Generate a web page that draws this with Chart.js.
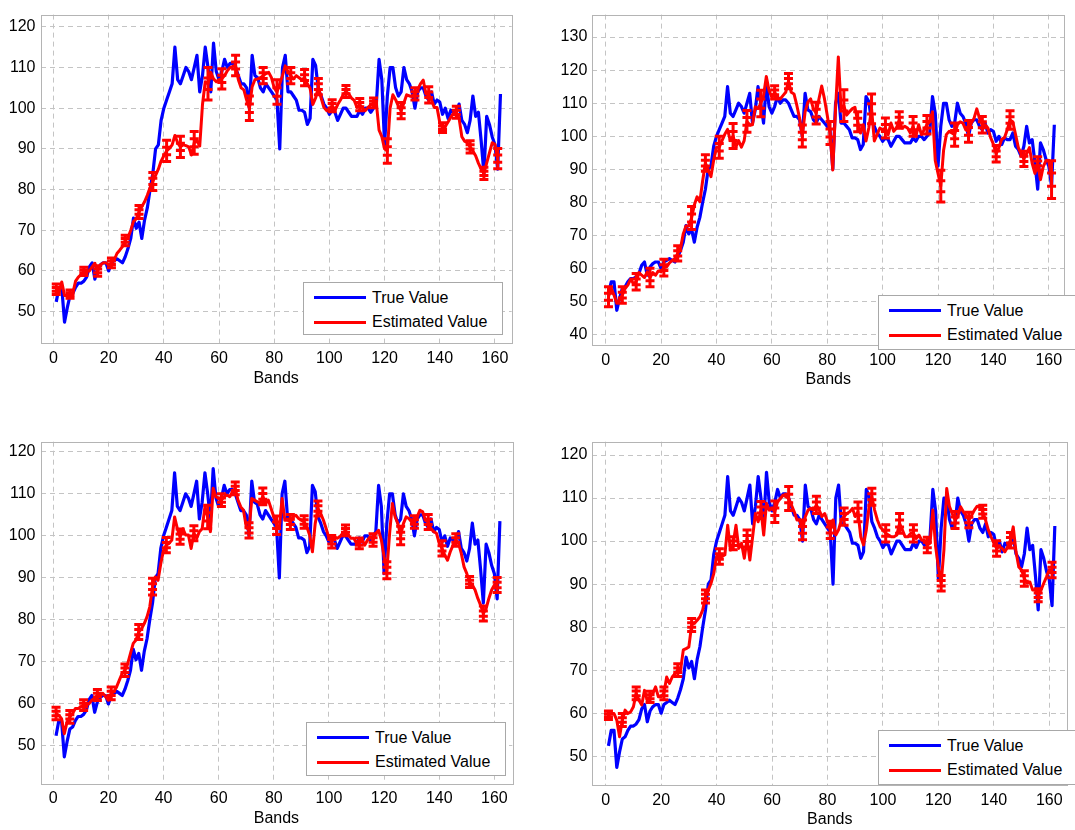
<!DOCTYPE html>
<html>
<head>
<meta charset="utf-8">
<title>Bands</title>
<script src="https://cdn.jsdelivr.net/npm/chart.js@4.4.1/dist/chart.umd.min.js"></script>
<style>
  body { margin: 0; background: #fff; width: 1075px; height: 830px; position: relative; overflow: hidden;
         font-family: "Liberation Sans", Arial, sans-serif; }
  canvas { position: absolute; }
  .legend { position: absolute; width: 200px; border: 1px solid #a8a8a8; background: #fff; box-sizing: border-box; }
  .legend .row { position: absolute; left: 0; width: 100%; height: 20px; }
  .legend .swatch { position: absolute; left: 10px; top: 8.5px; width: 52px; height: 3px; }
  .legend span { position: absolute; left: 68px; top: 0; font-size: 16px; line-height: 20px; white-space: nowrap; color: #000; }
</style>
</head>
<body>
<canvas id="c1" width="525" height="400" style="left:0;top:0"></canvas>
<canvas id="c2" width="530" height="400" style="left:545px;top:0"></canvas>
<canvas id="c3" width="525" height="405" style="left:0;top:425px"></canvas>
<canvas id="c4" width="530" height="405" style="left:545px;top:425px"></canvas>
<script>
// band numbers shared by all four panels
const bands = Array.from({ length: 162 }, (_, i) => i + 1);
// error bars sit on every fifth band
const errBands = [1, 6, 11, 16, 21, 26, 31, 36, 41, 46, 51, 56, 61, 66, 71, 76, 81,
  86, 91, 96, 101, 106, 111, 116, 121, 126, 131, 136, 141, 146, 151, 156, 161];

// tick labels
const xTicks = [0, 20, 40, 60, 80, 100, 120, 140, 160];
const yTicksLow = [50, 60, 70, 80, 90, 100, 110, 120];
const yTicksWide = [40, 50, 60, 70, 80, 90, 100, 110, 120, 130];

const trueValues = [
  52.4, 56, 56, 47.4, 51, 54, 54.5, 56, 57, 57,
  57.5, 58.5, 61, 62, 58, 60.5, 61.5, 62, 62, 60,
  62, 62.5, 63, 62.5, 62, 63.5, 65.5, 68, 73, 70.5,
  72, 68, 72.5, 75.5, 80, 84, 90, 91, 97, 100,
  102, 104, 106, 115, 107, 106, 108, 110, 109, 107,
  110, 113, 104, 108, 115, 110, 104, 116, 109, 107,
  109, 112, 110, 111, 111, 110, 108, 106, 106, 105,
  100, 113, 108, 107.5, 105, 104, 106, 105, 104, 103,
  102, 90, 110, 113, 104, 104, 103, 102, 99.5, 99.5,
  99, 96, 97.5, 112, 110.5, 104.5, 103, 101, 100, 98.5,
  99.5, 99, 97, 98.5, 100, 100, 99, 98, 98, 98,
  99.5, 98.5, 100, 100, 99, 100, 101, 112, 107, 91,
  103, 110, 110, 105, 103, 104, 110, 107, 106, 104,
  100, 104, 105, 105, 103, 102, 104, 101, 102, 101.5,
  98.5, 100, 97.5, 99.5, 99, 99, 101, 97, 96, 94,
  97, 103, 98, 99, 92, 84, 98, 96, 93, 91,
  85, 103.5
];

const estValues1 = [
  55.5, 54.7, 57.3, 54, 54, 54.3, 54.5, 57.5, 58.5, 59.1,
  59.9, 60, 60, 61, 61.9, 60, 61.5, 62, 62, 61.5,
  62, 62.7, 64.3, 65.1, 66, 67.5, 68.2, 70, 72.2, 72.8,
  74.5, 75.8, 77, 78.6, 80.5, 82, 83.5, 85, 87, 88.3,
  89.5, 90.1, 91, 93.3, 91.5, 90.5, 91, 90.8, 90.5, 88.5,
  91.5, 92, 90.7, 100.9, 106.5, 106, 108.8, 107.2, 106.5, 107,
  107.2, 108, 109.2, 110, 110.3, 110.5, 107, 105, 104.5, 102,
  100, 105.3, 107, 107.2, 107.5, 108, 108.5, 108.8, 107.5, 105,
  104, 106, 108, 110.4, 109, 108, 107.2, 108, 107.5, 107,
  107.5, 106, 104.9, 100.9, 102.5, 105.3, 102.5, 100.2, 99.4, 99.8,
  100.6, 99.4, 100.9, 102, 103.3, 104.1, 103.5, 102.5, 101.9, 100.2,
  100.9, 100, 99.4, 100.2, 100.8, 101.3, 101.3, 94.6, 93, 90,
  89.5, 100, 103.3, 102.1, 100.5, 99.4, 101.3, 103.3, 103, 102.9,
  103.5, 104.5, 106, 106.9, 103.5, 103.3, 102, 100.2, 100.2, 96.5,
  95.2, 95.5, 96.6, 97.8, 98.8, 99, 97.5, 93, 91.9, 91.5,
  90.5, 89.5, 88.3, 86.5, 85, 84, 86.5, 89, 91.5, 91.1,
  87.6
];

const estValues2 = [
  51.5, 54, 52, 49.5, 50.5, 52, 54, 55, 56.8, 55.5,
  56, 58.8, 58, 57.3, 59, 57.3, 58.8, 58, 59.3, 59,
  60.3, 60.5, 61.7, 62.5, 63, 64.6, 66.1, 70.5, 72.9, 72.9,
  75.3, 79.2, 81.7, 80.2, 86.5, 91.9, 89.9, 87.8, 92.8, 96.7,
  96.7, 98.7, 100.6, 102.1, 98.7, 100.1, 96.7, 98.7, 96.7, 98.7,
  104.5, 103.5, 103.5, 108.9, 108.4, 109.9, 112.3, 118.1, 113.8, 111.8,
  113.3, 111.8, 111.3, 112.3, 113.3, 116.7, 113.3, 112.8, 109.4, 105.5,
  100.1, 107.4, 110.3, 111.3, 108.3, 107, 111.3, 115.2, 111.3, 106.4,
  101, 89.8, 108.3, 124, 108.3, 109.3, 106.4, 107.4, 108.3, 108.8,
  104.4, 101, 103.5, 98.6, 102.5, 108.3, 98.6, 100.5, 102.5, 102,
  102.5, 100.5, 104, 101.5, 102.5, 104.9, 102.5, 103, 102.5, 101,
  103, 100, 103.5, 100.5, 102, 103.5, 104.4, 107.4, 92.7, 88.8,
  84.9, 95.7, 100.5, 101.5, 101, 100.5, 103.5, 104.4, 104, 102,
  101.5, 104, 105.4, 108.3, 105.4, 103.5, 103.5, 102.5, 99.6, 97.6,
  94.7, 96.6, 99.1, 99.6, 102, 104.9, 104.4, 100.5, 96.6, 94.7,
  93.2, 94.7, 96.6, 91.8, 88.8, 91.8, 86.9, 90.8, 92.7, 92.7,
  86.9
];

const estValues3 = [
  57.7, 57.3, 56.5, 52.9, 55.7, 56.9, 57.7, 58.9, 58.9, 59.3,
  59.7, 59.7, 60.1, 60.9, 61.3, 62.1, 62.1, 62.5, 61.7, 60.9,
  62.5, 62.9, 64.1, 65.7, 67.3, 68, 69.6, 72, 74.4, 75.2,
  77.1, 77.9, 79.1, 80.7, 83.1, 87.9, 90.2, 89.4, 93.4, 96.6,
  97.8, 98.2, 99, 104.5, 101.7, 99.8, 101.7, 100.2, 100.2, 97,
  100.6, 99.4, 101, 101.7, 106.9, 104.5, 101, 111.3, 109.3, 108.9,
  108.5, 109.3, 109.7, 109.3, 110.5, 111.3, 108.5, 106.9, 106.1, 102.1,
  101.3, 108.9, 108.5, 108.1, 107.7, 109.4, 107.7, 108.5, 106.5, 104.5,
  102.5, 102.1, 108.9, 103.7, 103.7, 103.3, 104.5, 104.9, 104.1, 103.7,
  103.3, 102.1, 100.1, 96.2, 102.9, 106.5, 105.3, 103.7, 101.7, 99.4,
  98.6, 99.8, 99.4, 99.8, 100.6, 101.3, 100.2, 99.4, 99.4, 98.2,
  98.2, 99, 97.8, 99, 99.8, 99, 100.6, 101.3, 99, 95,
  91.8, 100.6, 107.7, 104.5, 102.9, 100.1, 102.9, 104.5, 104.1, 103.3,
  103.3, 104.5, 106.1, 105.7, 103.7, 103.3, 101.7, 101, 100.6, 98.2,
  97, 95.4, 94.2, 96.2, 97.8, 99, 98.2, 95.8, 92.6, 91,
  89, 88.3, 87.1, 85.1, 83.5, 81.5, 82.7, 85.1, 87.1, 88.3,
  88.3
];

const estValues4 = [
  59.5, 59.9, 59.9, 58.4, 54.5, 58.4, 60.7, 59.9, 60.3, 61.5,
  64.6, 63, 61.9, 65.3, 63, 63.8, 64.6, 66.1, 63.8, 63.8,
  64.6, 68.4, 66.9, 68.4, 69.2, 70, 70, 74.7, 75, 75.4,
  80.5, 80.9, 81.6, 82.4, 84, 87.1, 88.6, 90.2, 92.5, 96.4,
  96.4, 96.4, 96.8, 103.7, 97.9, 99.5, 103.7, 98.3, 99.5, 96,
  100.6, 95.6, 101, 106.4, 104.5, 107.2, 101.4, 108.8, 107.2, 107.6,
  106.8, 109.1, 109.9, 110.7, 110.3, 109.9, 108.4, 106.8, 104.9, 104.9,
  102.6, 105.7, 107.2, 107.6, 107.2, 108.4, 107.2, 105.7, 106.4, 104.5,
  102.6, 104.9, 101.4, 102.6, 104.9, 105.7, 106.4, 106.8, 107.6, 105.7,
  106.8, 101, 99.1, 102.6, 108, 110.3, 107.2, 104.9, 103.3, 102.6,
  101.8, 101.4, 101, 101, 101.4, 104.1, 102.6, 101, 101, 101.8,
  101.8, 100.6, 101.4, 100.2, 100.2, 99.1, 99.5, 107.2, 98.7, 94,
  90.2, 97.9, 112.2, 108, 106.4, 104.9, 105.7, 108, 106.8, 106,
  104.9, 106, 107.2, 108.1, 108, 106.8, 104.9, 102.6, 101, 99.5,
  98.3, 98.7, 98.3, 97.5, 98.7, 100.2, 103.3, 97.5, 94, 93.3,
  91.3, 90.2, 90.5, 88.6, 88.6, 87.4, 88.6, 90.2, 91.7, 93.3,
  93.3
];

// half-length of each error bar, one per entry of errBands
const errHalf1 = [1.3, 1.0, 1.0, 1.3, 1.2, 1.3, 1.6, 2.2, 2.6, 2.6, 2.8, 4, 2.5, 2.5, 3, 2, 3,
  2, 2, 2, 1.5, 1.5, 1.5, 1.2, 3, 2, 1.5, 2, 1.2, 1.5, 1.5, 1.5, 2.5];
const errHalf2 = [3, 2.5, 2.5, 2.8, 2.5, 2.3, 3.5, 2.5, 3.3, 3.8, 3.3, 4, 2, 2.3, 3.3, 3.3, 3.5,
  4.8, 3, 4.5, 3, 2.5, 3, 2.8, 4.8, 3.5, 3.3, 2.5, 2.5, 2.8, 2.3, 2, 5.7];
const errHalf3 = [1.5, 1.5, 1.3, 1.3, 1.5, 1.5, 1.8, 2, 1.8, 1.8, 1.8, 2.8, 1.5, 1.5, 1.8, 2, 2.2,
  1.8, 1.5, 1.8, 1.5, 1.3, 1.3, 1.5, 2, 2.2, 1.5, 1.8, 1.8, 1.5, 1.3, 1.8, 1.8];
const errHalf4 = [1, 1.5, 1.5, 1.3, 1.5, 1.5, 1.5, 1.5, 1.8, 1.5, 2, 2, 2.5, 2.8, 2.3, 2, 2,
  2, 2.3, 2, 2, 2.3, 2, 1.8, 1.8, 2, 1.8, 1.5, 1.8, 1.8, 1.8, 1.5, 1.8];

const BLUE = '#0000ff';
const RED = '#ff0000';
const FONT = '"Liberation Sans", Arial, sans-serif';

Chart.defaults.font.family = FONT;
Chart.defaults.font.size = 16;
Chart.defaults.color = '#000';

// thin grey box round the plot area
const framePlugin = {
  id: 'frame',
  beforeDatasetsDraw(chart) {
    const { ctx, chartArea: a } = chart;
    ctx.save();
    ctx.strokeStyle = '#b4b4b4';
    ctx.lineWidth = 1;
    ctx.strokeRect(Math.round(a.left) + 0.5, Math.round(a.top) + 0.5,
      Math.round(a.right - a.left), Math.round(a.bottom - a.top));
    ctx.restore();
  }
};

function makePanel(id, est, errHalf, yTicks, p) {
  // each bar: bottom, inner marks, top, then a gap so the line breaks
  const errPoints = [];
  errBands.forEach((b, k) => {
    const c = est[b - 1], e = errHalf[k];
    errPoints.push({ x: b, y: c - e }, { x: b, y: c - e * 0.35 },
      { x: b, y: c + e * 0.35 }, { x: b, y: c + e }, { x: b, y: null });
  });

  const gridCommon = { color: '#c4c4c4', lineWidth: 1, drawTicks: false };

  new Chart(document.getElementById(id), {
    type: 'scatter',
    data: {
      datasets: [
        {
          label: 'error',
          data: errPoints,
          showLine: true,
          spanGaps: false,
          borderColor: RED,
          borderWidth: 3,
          pointStyle: 'line',
          pointRadius: 4.5,
          pointBorderWidth: 3,
          pointBorderColor: RED,
          pointBackgroundColor: RED
        },
        {
          label: 'Estimated Value',
          data: est.map((v, i) => ({ x: bands[i], y: v })),
          showLine: true,
          borderColor: RED,
          borderWidth: 3,
          borderJoinStyle: 'round',
          pointRadius: 0,
          tension: 0
        },
        {
          label: 'True Value',
          data: trueValues.map((v, i) => ({ x: bands[i], y: v })),
          showLine: true,
          borderColor: BLUE,
          borderWidth: 3.2,
          borderJoinStyle: 'round',
          pointRadius: 0,
          tension: 0
        }
      ]
    },
    options: {
      responsive: false,
      animation: false,
      devicePixelRatio: 1,
      layout: { padding: { left: 0, right: p.padR, top: p.padT, bottom: 0 } },
      plugins: { legend: { display: false }, tooltip: { enabled: false } },
      scales: {
        x: {
          type: 'linear',
          min: p.xMin,
          max: p.xMax,
          ticks: { padding: 6, maxRotation: 0, color: '#000' },
          afterBuildTicks: s => { s.ticks = xTicks.map(v => ({ value: v })); },
          grid: gridCommon,
          border: { display: false, dash: [5, 4] },
          title: { display: true, text: 'Bands', color: '#000', padding: { top: 0, bottom: p.titlePad } },
          afterFit: s => { s.height = p.xAxisH; }
        },
        y: {
          min: p.yMin,
          max: p.yMax,
          ticks: { padding: 5, color: '#000' },
          afterBuildTicks: s => { s.ticks = yTicks.map(v => ({ value: v })); },
          grid: gridCommon,
          border: { display: false, dash: [5, 4] },
          afterFit: s => { s.width = p.yAxisW; }
        }
      }
    },
    plugins: [framePlugin]
  });

  // legend box inside the plot, lower right
  const box = document.createElement('div');
  box.className = 'legend';
  box.style.left = p.legLeft + 'px';
  box.style.top = p.legTop + 'px';
  box.style.height = p.legH + 'px';
  [['True Value', BLUE, 4.5], ['Estimated Value', RED, 29]].forEach(([txt, col, top]) => {
    const row = document.createElement('div');
    row.className = 'row';
    row.style.top = top + 'px';
    const sw = document.createElement('div');
    sw.className = 'swatch';
    sw.style.background = col;
    const label = document.createElement('span');
    label.textContent = txt;
    row.appendChild(sw);
    row.appendChild(label);
    box.appendChild(row);
  });
  document.body.appendChild(box);
}

makePanel('c1', estValues1, errHalf1, yTicksLow, {
  xMin: -4.71, xMax: 166.07, yMin: 42.3, yMax: 123,
  yAxisW: 40.5, padR: 13.3, padT: 3.5, xAxisH: 57, titlePad: 12,
  legLeft: 303, legTop: 282, legH: 53
});
makePanel('c2', estValues2, errHalf2, yTicksWide, {
  xMin: -4.84, xMax: 165.6, yMin: 36.9, yMax: 136.8,
  yAxisW: 47.3, padR: 10.7, padT: 2.7, xAxisH: 55, titlePad: 10.4,
  legLeft: 878, legTop: 295, legH: 55
});
makePanel('c3', estValues3, errHalf3, yTicksLow, {
  xMin: -4.64, xMax: 166.5, yMin: 41.1, yMax: 122.4,
  yAxisW: 40.5, padR: 12.7, padT: 16.7, xAxisH: 46.7, titlePad: 2.1,
  legLeft: 306, legTop: 722, legH: 54
});
makePanel('c4', estValues4, errHalf4, yTicksLow, {
  xMin: -4.83, xMax: 166.5, yMin: 43.3, yMax: 123.1,
  yAxisW: 47.3, padR: 7.7, padT: 16.7, xAxisH: 45, titlePad: 0.4,
  legLeft: 878, legTop: 730, legH: 55
});
</script>
</body>
</html>
